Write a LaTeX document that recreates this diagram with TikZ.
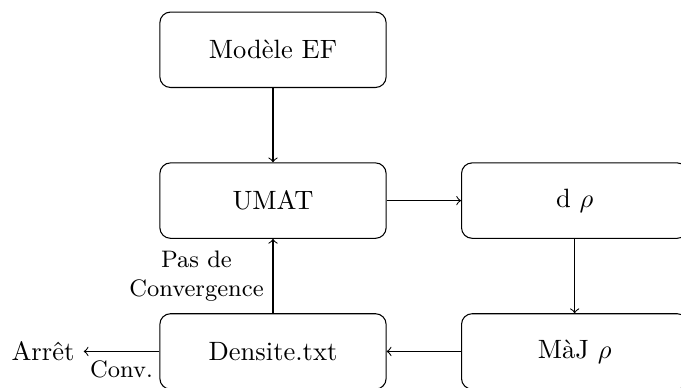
\documentclass[tikz,border=0pt]{standalone}
\begin{document}
\begin{tikzpicture}[box/.style={draw,rounded corners,minimum width=3cm,minimum height=1cm}]
\useasboundingbox (-3.62,-2.48) rectangle (5.41,2.66);
\node[box] (modele) at (0,2) {Modèle EF};
\node[box] (umat) at (0,0) {UMAT};
\node[box] (drho) at (4,0) {d $\rho$};
\node[box] (maj) at (4,-2) {MàJ $\rho$};
\node[box] (dens) at (0,-2) {Densite.txt};
\node (arret) at (-3.05,-2) {Arrêt};
\draw[->] (modele) -- (umat);
\draw[->] (umat) -- (drho);
\draw[->] (drho) -- (maj);
\draw[->] (maj) -- (dens);
\draw[->] (dens) -- node[left,align=center,font=\small] {Pas de\\Convergence} (umat);
\draw[->] (dens) -- node[below,font=\small] {Conv.} (arret);
\end{tikzpicture}
\end{document}
